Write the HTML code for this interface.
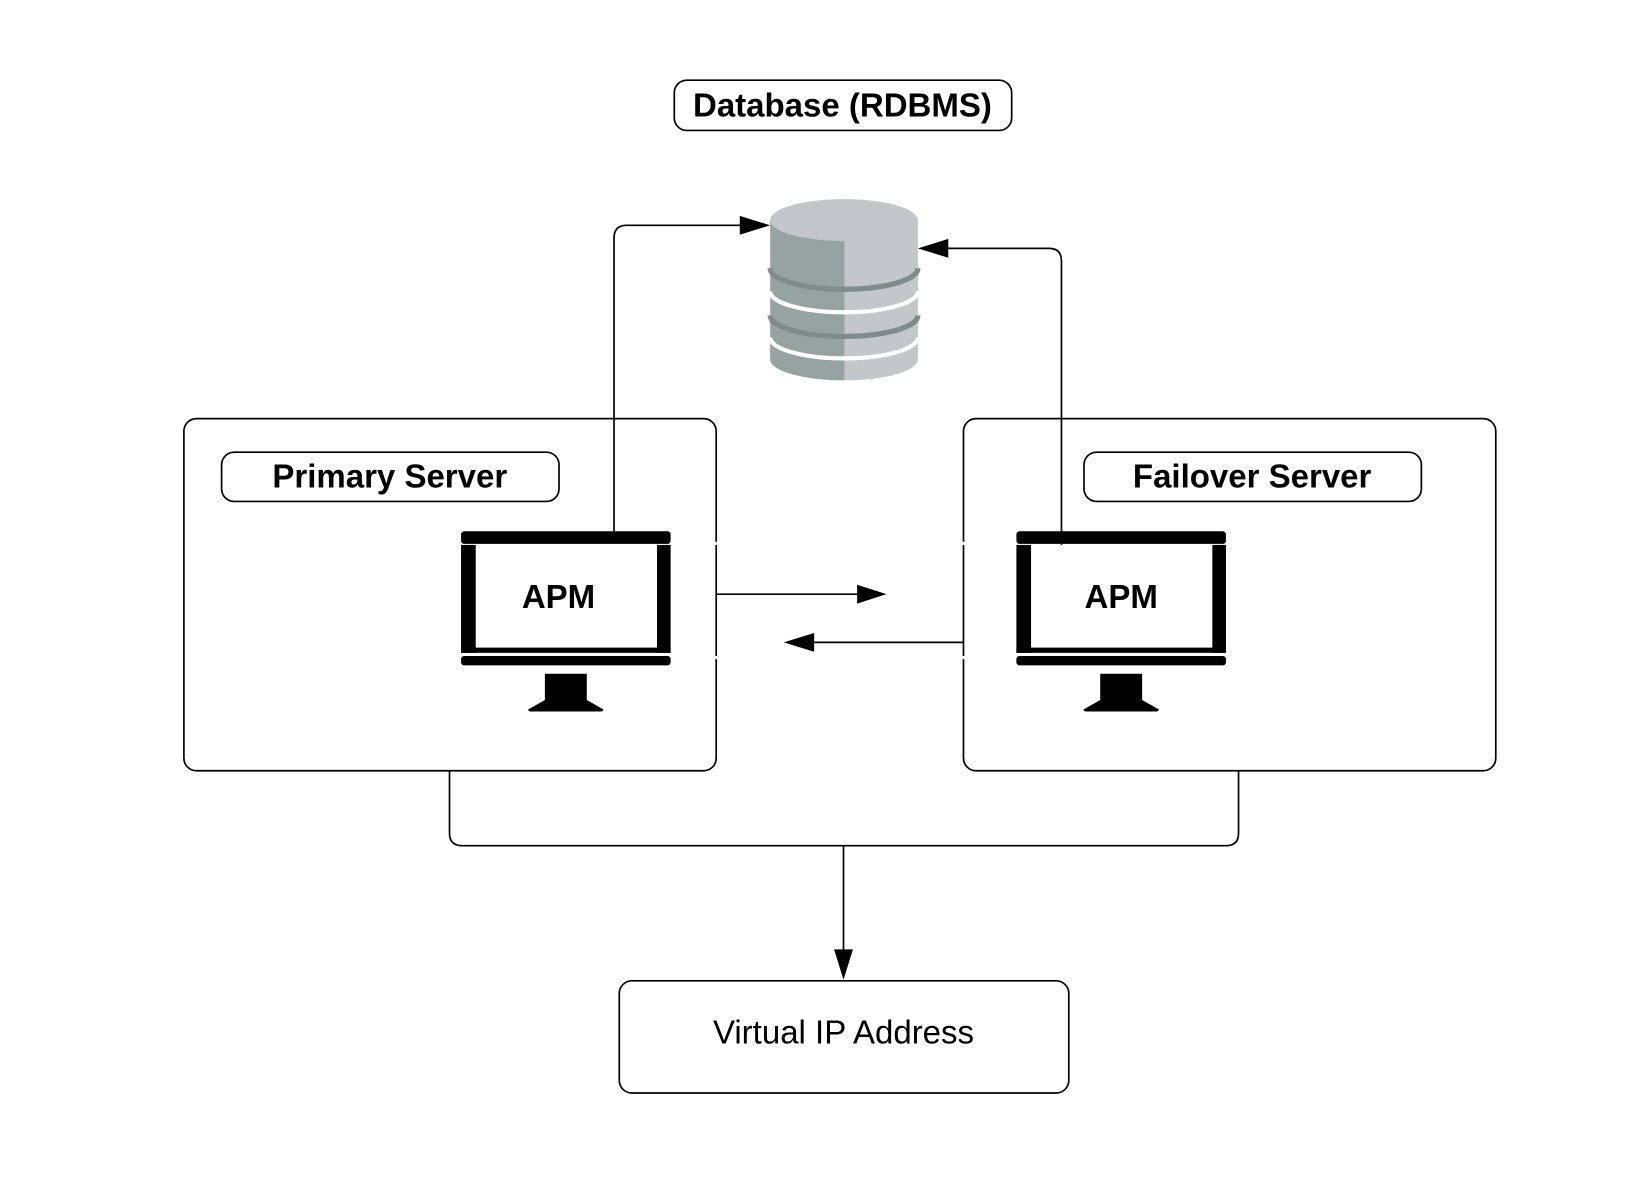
<!DOCTYPE html>
<html><head><meta charset="utf-8"><style>
html,body{margin:0;padding:0;background:#fff;}
svg{display:block;}
text{font-family:"Liberation Sans",Arial,sans-serif;}
</style></head><body>
<svg width="1643" height="1181" viewBox="0 0 1568 1127" preserveAspectRatio="none" xmlns="http://www.w3.org/2000/svg">
<rect x="0" y="0" width="1568" height="1127" fill="#fff"/>
<g fill="none" stroke="#000" stroke-width="1.6">
<rect x="643.5" y="76.5" width="322" height="48" rx="12"/>
<rect x="175.5" y="399.5" width="508" height="336" rx="12"/>
<rect x="919.5" y="399.5" width="508" height="336" rx="12"/>
<rect x="211.5" y="431.5" width="322" height="47" rx="12"/>
<rect x="1034.5" y="431.5" width="322" height="47" rx="12"/>
<rect x="591" y="936" width="429" height="107" rx="12"/>
<path d="M586 507 V227 Q586 215 598 215 H708"/>
<path d="M1013 520 V249 Q1013 237 1001 237 H904"/>
<path d="M683 567 H820"/>
<path d="M919 613 H775"/>
<path d="M429 735 V795 Q429 807 441 807 H1170 Q1182 807 1182 795 V735"/>
<path d="M805 807 V908"/>
</g>
<g fill="#000">
<polygon points="735,215 706,206 706,224"/>
<polygon points="876,237 905,228 905,246"/>
<polygon points="846,567 818,558 818,576"/>
<polygon points="748,613 777,604 777,622"/>
<polygon points="805,935 796,906 814,906"/>
</g>
<g fill="#fff">
<rect x="680" y="517" width="6" height="3"/><rect x="680" y="626" width="6" height="3"/>
<rect x="916" y="517" width="6" height="3"/><rect x="916" y="626" width="6" height="3"/>
</g>
<g>
<path d="M735 210 V343 A70.5 20 0 0 0 806 363 V210 Z" fill="#97a3a1"/>
<path d="M806 210 V363 A70.5 20 0 0 0 876 343 V210 Z" fill="#c3c7ca"/>
<ellipse cx="805.5" cy="210" rx="70.5" ry="20" fill="#c3c7ca"/>
<path d="M735 256 A70.5 20 0 0 0 876 256" fill="none" stroke="#7f8c8a" stroke-width="5"/>
<path d="M735 278 A70.5 20 0 0 0 876 278" fill="none" stroke="#fff" stroke-width="4"/>
<path d="M735 301 A70.5 20 0 0 0 876 301" fill="none" stroke="#7f8c8a" stroke-width="5"/>
<path d="M735 322 A70.5 20 0 0 0 876 322" fill="none" stroke="#fff" stroke-width="4"/>
</g>
<g fill="#000">
<rect x="440" y="507" width="200" height="12" rx="3"/>
<rect x="440" y="520" width="14" height="103"/>
<rect x="627" y="520" width="13" height="103"/>
<rect x="440" y="618" width="200" height="5"/>
<rect x="440" y="626" width="200" height="9" rx="3"/>
<path d="M520 643 H560 V668 L576 677 Q576 679 572 679 H508 Q504 679 504 677 L520 668 Z"/>
</g>
<g fill="#000" transform="translate(530,0)">
<rect x="440" y="507" width="200" height="12" rx="3"/>
<rect x="440" y="520" width="14" height="103"/>
<rect x="627" y="520" width="13" height="103"/>
<rect x="440" y="618" width="200" height="5"/>
<rect x="440" y="626" width="200" height="9" rx="3"/>
<path d="M520 643 H560 V668 L576 677 Q576 679 572 679 H508 Q504 679 504 677 L520 668 Z"/>
</g>
<g font-weight="bold" font-size="31.5" text-anchor="middle" fill="#000">
<text x="804" y="111">Database (RDBMS)</text>
<text x="372" y="465">Primary Server</text>
<text x="1195" y="465">Failover Server</text>
<text x="533" y="580">APM</text>
<text x="1070" y="580">APM</text>
</g>
<text x="805" y="996" font-size="31.5" text-anchor="middle" fill="#000">Virtual IP Address</text>
</svg>
</body></html>
